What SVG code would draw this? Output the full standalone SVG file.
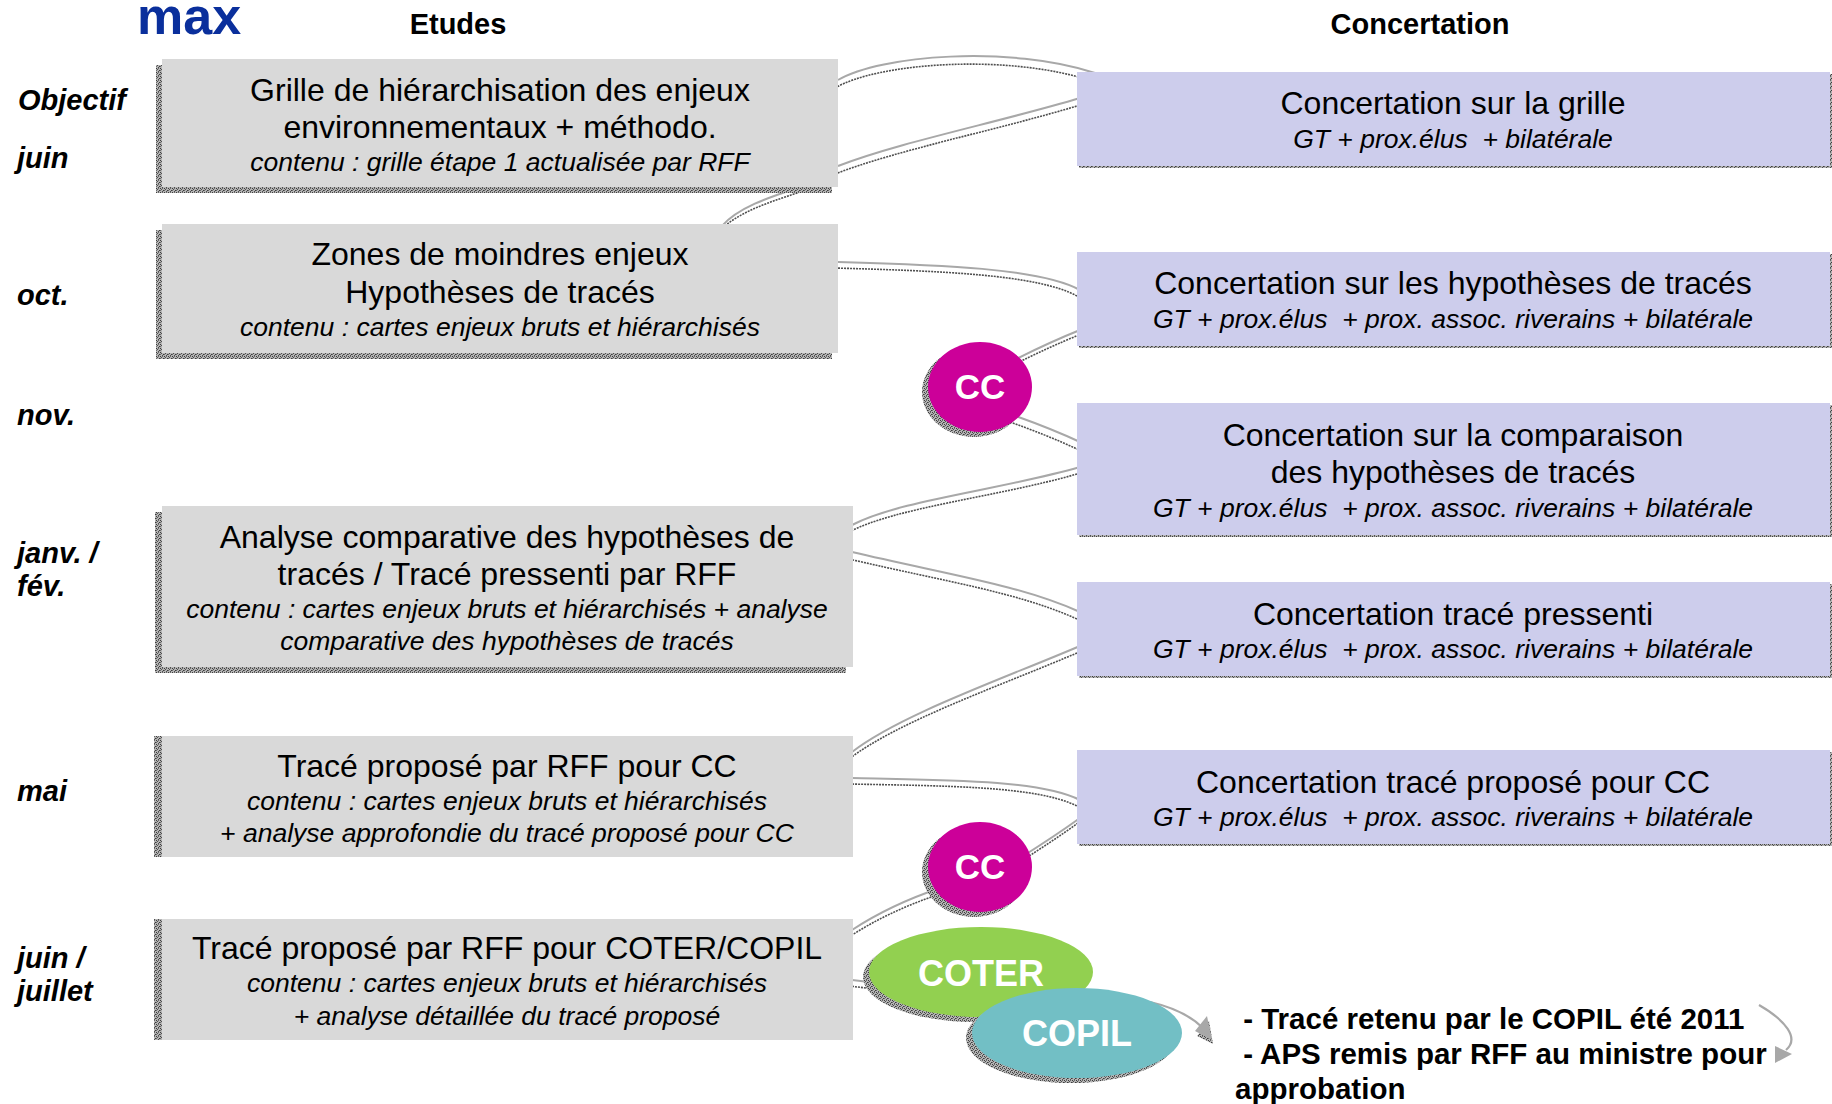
<svg xmlns="http://www.w3.org/2000/svg" xmlns:xlink="http://www.w3.org/1999/xlink" width="1832" height="1104" viewBox="0 0 1832 1104">
<style>
text{font-family:"Liberation Sans",Arial,sans-serif;fill:#000;white-space:pre}
.h{font-weight:bold;font-size:29px;text-anchor:middle}
.lbl{font-weight:bold;font-style:italic;font-size:29px}
.t{font-size:32px;text-anchor:middle}
.i{font-style:italic;font-size:26.5px;text-anchor:middle}
.w{font-weight:bold;fill:#fff;text-anchor:middle}
.note{font-weight:bold;font-size:29.5px}
.gbox{fill:#d9d9d9}
.bbox{fill:#cdcdec}
.sh{fill:url(#tex)}
.con{fill:none;stroke:#a8a8a8;stroke-width:2}
.cons{fill:none;stroke:#505050;stroke-width:1.6;stroke-dasharray:2 1}
.arr{fill:none;stroke:#a8a8a8;stroke-width:2.2}
.head{fill:#a8a8a8}
</style>
<defs>
<pattern id="tex" width="4" height="4" patternUnits="userSpaceOnUse">
<rect width="4" height="4" fill="#b4b4b4"/>
<rect x="0" y="0" width="1" height="1" fill="#3c3c3c"/>
<rect x="2" y="0" width="1" height="1" fill="#6a6a6a"/>
<rect x="1" y="1" width="1" height="1" fill="#505050"/>
<rect x="3" y="2" width="1" height="1" fill="#3c3c3c"/>
<rect x="0" y="2" width="1" height="1" fill="#6a6a6a"/>
<rect x="2" y="3" width="1" height="1" fill="#505050"/>
</pattern>
<path id="p1" d="M 838 80 C 880 55, 1010 45, 1095 73"/>
<path id="p2" d="M 838 166 C 900 142, 1000 122, 1080 98"/>
<path id="p3" d="M 806 185 C 780 194, 740 205, 722 226"/>
<path id="p4" d="M 838 262 C 940 265, 1040 268, 1080 290"/>
<path id="p5" d="M 1080 330 Q 1050 342 1010 362"/>
<path id="p6" d="M 1010 414 Q 1050 428 1080 442"/>
<path id="p7" d="M 1080 467 C 1000 490, 900 500, 852 525"/>
<path id="p8" d="M 852 552 C 950 575, 1020 585, 1080 612"/>
<path id="p9" d="M 1080 646 C 1000 680, 900 715, 852 752"/>
<path id="p10" d="M 852 778 C 950 780, 1040 780, 1080 800"/>
<path id="p11" d="M 1080 818 Q 1055 836 1020 858"/>
<path id="p12" d="M 940 888 Q 890 905 852 930"/>
<path id="p13" d="M 852 980 L 895 985"/>
</defs>
<rect width="1832" height="1104" fill="#fff"/>

<g id="headers">
<text x="137" y="34" style="font-family:'Liberation Sans',Arial,sans-serif;font-weight:bold;font-size:52px;fill:#0a2f9c">max</text>
<text class="h" x="458" y="34">Etudes</text>
<text class="h" x="1420" y="34">Concertation</text>
</g>

<g id="labels">
<text class="lbl" x="18" y="110">Objectif</text>
<text class="lbl" x="17" y="168">juin</text>
<text class="lbl" x="17" y="305">oct.</text>
<text class="lbl" x="17" y="425">nov.</text>
<text class="lbl" x="17" y="563">janv. /</text>
<text class="lbl" x="17" y="596">fév.</text>
<text class="lbl" x="17" y="801">mai</text>
<text class="lbl" x="17" y="968">juin /</text>
<text class="lbl" x="17" y="1001">juillet</text>
</g>

<g id="connectors">
<use xlink:href="#p1" class="cons" transform="translate(-3,8)"/><use xlink:href="#p1" class="con"/>
<use xlink:href="#p2" class="cons" transform="translate(-3,8)"/><use xlink:href="#p2" class="con"/>
<use xlink:href="#p3" class="cons" transform="translate(-3,6)"/><use xlink:href="#p3" class="con"/>
<use xlink:href="#p4" class="cons" transform="translate(-3,6)"/><use xlink:href="#p4" class="con"/>
<use xlink:href="#p5" class="cons" transform="translate(-1,5)"/><use xlink:href="#p5" class="con"/>
<use xlink:href="#p6" class="cons" transform="translate(-3,7)"/><use xlink:href="#p6" class="con"/>
<use xlink:href="#p7" class="cons" transform="translate(-3,7)"/><use xlink:href="#p7" class="con"/>
<use xlink:href="#p8" class="cons" transform="translate(-3,7)"/><use xlink:href="#p8" class="con"/>
<use xlink:href="#p9" class="cons" transform="translate(-3,7)"/><use xlink:href="#p9" class="con"/>
<use xlink:href="#p10" class="cons" transform="translate(-3,6)"/><use xlink:href="#p10" class="con"/>
<use xlink:href="#p11" class="cons" transform="translate(-2,5)"/><use xlink:href="#p11" class="con"/>
<use xlink:href="#p12" class="cons" transform="translate(-3,7)"/><use xlink:href="#p12" class="con"/>
<use xlink:href="#p13" class="cons" transform="translate(-3,6)"/><use xlink:href="#p13" class="con"/>
<path class="arr" d="M 1150 1002 Q 1185 1010 1203 1028"/>
<polygon class="sh" points="1197,1036 1209,1021 1213,1044"/>
<polygon class="head" points="1195,1031 1207,1016 1212,1040"/>
<path class="arr" d="M 1759 1005 C 1785 1020, 1800 1038, 1786 1050"/>
<polygon class="head" points="1775,1046 1792,1054 1775,1063"/>
</g>

<g id="etude-1">
<rect class="sh" x="156" y="65" width="676" height="128"/>
<rect class="gbox" x="162" y="59" width="676" height="128"/>
<text class="t" x="500" y="101">Grille de hiérarchisation des enjeux</text>
<text class="t" x="500" y="138">environnementaux + méthodo.</text>
<text class="i" x="500" y="171">contenu : grille étape 1 actualisée par RFF</text>
</g>
<g id="etude-2">
<rect class="sh" x="156" y="230" width="676" height="129"/>
<rect class="gbox" x="162" y="224" width="676" height="129"/>
<text class="t" x="500" y="265">Zones de moindres enjeux</text>
<text class="t" x="500" y="303">Hypothèses de tracés</text>
<text class="i" x="500" y="336">contenu : cartes enjeux bruts et hiérarchisés</text>
</g>
<g id="etude-3">
<rect class="sh" x="155" y="512" width="691" height="161"/>
<rect class="gbox" x="162" y="506" width="691" height="161"/>
<text class="t" x="507" y="548">Analyse comparative des hypothèses de</text>
<text class="t" x="507" y="585">tracés / Tracé pressenti par RFF</text>
<text class="i" x="507" y="618">contenu : cartes enjeux bruts et hiérarchisés + analyse</text>
<text class="i" x="507" y="650">comparative des hypothèses de tracés</text>
</g>
<g id="etude-4">
<rect class="sh" x="154" y="736" width="691" height="121"/>
<rect class="gbox" x="162" y="736" width="691" height="121"/>
<text class="t" x="507" y="777">Tracé proposé par RFF pour CC</text>
<text class="i" x="507" y="810">contenu : cartes enjeux bruts et hiérarchisés</text>
<text class="i" x="507" y="842">+ analyse approfondie du tracé proposé pour CC</text>
</g>
<g id="etude-5">
<rect class="sh" x="154" y="919" width="691" height="121"/>
<rect class="gbox" x="162" y="919" width="691" height="121"/>
<text class="t" x="507" y="959">Tracé proposé par RFF pour COTER/COPIL</text>
<text class="i" x="507" y="992">contenu : cartes enjeux bruts et hiérarchisés</text>
<text class="i" x="507" y="1025">+ analyse détaillée du tracé proposé</text>
</g>

<g id="concert-1">
<rect class="sh" x="1079" y="74" width="753" height="94"/>
<rect class="bbox" x="1077" y="72" width="753" height="94"/>
<text class="t" x="1453" y="114">Concertation sur la grille</text>
<text class="i" x="1453" y="148">GT + prox.élus  + bilatérale</text>
</g>
<g id="concert-2">
<rect class="sh" x="1079" y="254" width="753" height="94"/>
<rect class="bbox" x="1077" y="252" width="753" height="94"/>
<text class="t" x="1453" y="294">Concertation sur les hypothèses de tracés</text>
<text class="i" x="1453" y="328">GT + prox.élus  + prox. assoc. riverains + bilatérale</text>
</g>
<g id="concert-3">
<rect class="sh" x="1079" y="405" width="753" height="132"/>
<rect class="bbox" x="1077" y="403" width="753" height="132"/>
<text class="t" x="1453" y="446">Concertation sur la comparaison</text>
<text class="t" x="1453" y="483">des hypothèses de tracés</text>
<text class="i" x="1453" y="517">GT + prox.élus  + prox. assoc. riverains + bilatérale</text>
</g>
<g id="concert-4">
<rect class="sh" x="1079" y="584" width="753" height="94"/>
<rect class="bbox" x="1077" y="582" width="753" height="94"/>
<text class="t" x="1453" y="625">Concertation tracé pressenti</text>
<text class="i" x="1453" y="658">GT + prox.élus  + prox. assoc. riverains + bilatérale</text>
</g>
<g id="concert-5">
<rect class="sh" x="1079" y="752" width="753" height="94"/>
<rect class="bbox" x="1077" y="750" width="753" height="94"/>
<text class="t" x="1453" y="793">Concertation tracé proposé pour CC</text>
<text class="i" x="1453" y="826">GT + prox.élus  + prox. assoc. riverains + bilatérale</text>
</g>

<g id="cc-1">
<ellipse class="sh" cx="974" cy="392" rx="52" ry="45"/>
<ellipse cx="980" cy="387" rx="52" ry="45" fill="#cc0099"/>
<text class="w" x="980" y="399" style="font-size:35px">CC</text>
</g>
<g id="cc-2">
<ellipse class="sh" cx="974" cy="872" rx="52" ry="45"/>
<ellipse cx="980" cy="867" rx="52" ry="45" fill="#cc0099"/>
<text class="w" x="980" y="879" style="font-size:35px">CC</text>
</g>
<g id="coter">
<ellipse class="sh" cx="975" cy="977" rx="112" ry="45"/>
<ellipse cx="981" cy="972" rx="112" ry="45" fill="#92d050"/>
<text class="w" x="981" y="986" style="font-size:36px">COTER</text>
</g>
<g id="copil">
<ellipse class="sh" cx="1071" cy="1038" rx="105" ry="45"/>
<ellipse cx="1077" cy="1033" rx="105" ry="45" fill="#72bfc5"/>
<text class="w" x="1077" y="1046" style="font-size:36px">COPIL</text>
</g>

<g id="note">
<text class="note" x="1235" y="1029"> - Tracé retenu par le COPIL été 2011</text>
<text class="note" x="1235" y="1064"> - APS remis par RFF au ministre pour</text>
<text class="note" x="1235" y="1099">approbation</text>
</g>
</svg>
